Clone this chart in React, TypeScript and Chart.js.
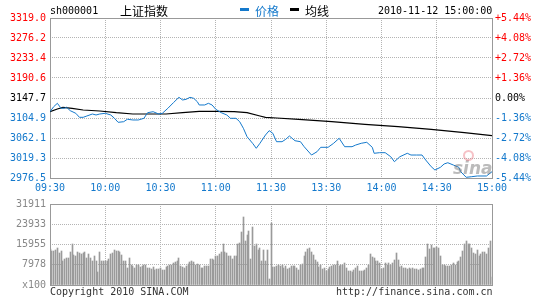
import React, { useEffect, useRef } from 'react';
import { Chart, registerables } from 'chart.js';

Chart.register(...registerables);

// ---- tick labels ----
const timeTickIdx = [0, 30, 60, 90, 120, 150, 180, 210, 240];
const timeLabels = ['09:30', '10:00', '10:30', '11:00', '11:30', '13:30', '14:00', '14:30', '15:00'];
const priceTicks = [3319.0, 3276.2, 3233.4, 3190.6, 3147.7, 3104.9, 3062.1, 3019.3, 2976.5];
const priceTickLabels = ['3319.0', '3276.2', '3233.4', '3190.6', '3147.7', '3104.9', '3062.1', '3019.3', '2976.5'];
const pctTickLabels = ['+5.44%', '+4.08%', '+2.72%', '+1.36%', '0.00%', '-1.36%', '-2.72%', '-4.08%', '-5.44%'];
const tickTone = ['up', 'up', 'up', 'up', 'flat', 'down', 'down', 'down', 'down'];
const volTicks = [31911, 23933, 15955, 7978, 0];
const volTickLabels = ['31911', '23933', '15955', '7978', 'x100'];

// ---- price series (minute index from 09:30, 0..240) ----
const priceIdx = [0, 2, 4, 6, 8, 9, 11, 14, 16, 18, 20, 23, 25, 27, 30, 33, 35, 37, 40, 42, 45, 48, 51, 53, 56, 59, 61, 64, 67, 70, 72, 74, 76, 78, 80, 81, 84, 86, 88, 90, 93, 96, 98, 101, 103, 105, 107, 110, 112, 114, 117, 119, 121, 123, 126, 128, 130, 133, 136, 138, 142, 145, 147, 151, 154, 157, 160, 164, 166, 169, 172, 175, 176, 179, 182, 185, 187, 190, 194, 196, 199, 202, 204, 207, 209, 212, 214, 216, 219, 222, 223, 226, 229, 232, 237, 240];
const priceVals = [3118.4, 3129.1, 3136.4, 3125.7, 3126.0, 3127.9, 3120.6, 3115.0, 3106.4, 3106.4, 3109.2, 3113.5, 3111.4, 3113.5, 3115.0, 3111.4, 3104.3, 3095.7, 3097.0, 3102.2, 3100.7, 3100.7, 3104.3, 3116.3, 3118.4, 3113.5, 3115.0, 3125.7, 3137.7, 3149.2, 3143.5, 3145.0, 3149.2, 3147.1, 3139.8, 3132.8, 3132.8, 3136.4, 3132.8, 3123.6, 3116.3, 3111.4, 3104.3, 3104.3, 3097.0, 3082.9, 3064.9, 3050.8, 3040.1, 3050.8, 3068.5, 3077.8, 3072.2, 3054.2, 3054.2, 3059.3, 3066.4, 3056.3, 3054.2, 3043.5, 3025.7, 3032.8, 3042.2, 3042.2, 3050.8, 3061.5, 3043.5, 3043.5, 3047.1, 3050.8, 3052.9, 3042.2, 3029.4, 3030.7, 3030.7, 3022.1, 3011.4, 3022.1, 3029.4, 3025.7, 3025.7, 3025.7, 3015.0, 3000.7, 2993.6, 2999.4, 3006.5, 3009.2, 3004.3, 2999.4, 2990.0, 2978.0, 2979.3, 2980.8, 2980.8, 2990.0];

// ---- average price series ----
const avgIdx = [0, 4, 7, 12, 18, 27, 36, 45, 63, 72, 81, 90, 100, 107, 114, 117, 123, 135, 153, 171, 189, 207, 225, 240];
const avgVals = [3118.4, 3124.2, 3127.8, 3125.7, 3122.1, 3119.9, 3116.3, 3113.5, 3113.5, 3116.3, 3119.3, 3119.3, 3118.4, 3116.3, 3109.2, 3106.4, 3104.9, 3102.2, 3097.0, 3091.5, 3086.3, 3080.7, 3073.5, 3067.0];

// ---- volume (x100), morning 09:30..11:30 and afternoon 13:01..15:00 ----
const volAM = [
  14300, 13400, 13400, 13800, 14400, 12800, 13400, 9600, 10200,
  10800, 10800, 13000, 16000, 11900, 11500, 13000, 12800, 12400,
  12800, 13000, 10800, 12100, 10800, 9300, 11500, 9600, 5100,
  13000, 9300, 9300, 9600, 9600, 10200, 12100, 12800, 13700,
  13400, 13400, 13000, 11700, 9600, 9300, 6800, 10800, 8000,
  7300, 6800, 7700, 7700, 7000, 7300, 8000, 8000, 6800,
  6800, 6400, 7000, 6000, 6300, 6400, 6800, 6000, 6000,
  7000, 7300, 7700, 8000, 8500, 8900, 9600, 10800, 7500,
  7000, 6800, 7500, 8300, 8900, 9600, 8900, 8000, 8300,
  7700, 6800, 6800, 7300, 7300, 7300, 10200, 10200, 9800,
  11500, 11500, 12400, 13000, 16000, 13000, 12800, 11500, 11500,
  10200, 11500, 11500, 16200, 16600, 21000, 26800, 17200, 19800,
  21300, 10200, 22700, 15300, 16000, 13700, 14700, 9600, 13700,
  9300, 13700, 2500, 24500,
];
const volPM = [
  7000, 7000, 7300, 8000, 7300, 7700, 6800, 7300, 6400,
  6800, 7300, 7300, 7300, 6800, 6000, 8000, 8300, 11500, 13100, 14000,
  14700, 13100, 11700, 9800, 8900, 7000, 7700, 6400, 6800, 5700, 6400,
  7000, 7300, 8000, 7700, 9300, 7300, 8000, 7700, 8500, 6800, 5700,
  5500, 5100, 6000, 6800, 7300, 5700, 5700, 5700,
  6000, 6800, 8000, 12400, 11100, 10800, 9600, 9300, 8500, 6400,
  6800, 8500, 8000, 8500, 7700, 8500, 9800, 12800, 9800, 7000, 7300,
  6800, 6800, 6300, 6800, 6400, 6800, 6300, 6300,
  6000, 6300, 6800, 6800, 11100, 16000, 14000, 15700, 14400, 14400, 14900, 14400, 11500,
  8000, 8000, 7300, 7300, 7300, 8000,
  8500, 8000, 8900, 9600, 11100, 13400, 16000, 17200, 16200, 16200, 14400,
  12800, 12400, 13700, 11500, 12100, 13000, 13000, 12100, 14400, 17200,
  3200,
];

const BLUE = '#1479cc';
const RED = '#ff0000';
const GRID = '#b4b4b4';
const FRAME = '#999999';
const MONO = 'DejaVu Sans Mono';
const tickFont = { family: MONO, size: 10 };
const toneColor = (t: string) => (t === 'up' ? RED : t === 'flat' ? '#000000' : BLUE);

const framePlugin = {
  id: 'frame',
  beforeDatasetsDraw(chart: any) {
    const { ctx, chartArea: a } = chart;
    ctx.save();
    ctx.strokeStyle = FRAME;
    ctx.lineWidth = 1;
    ctx.setLineDash([]);
    ctx.strokeRect(Math.round(a.left) + 0.5, Math.round(a.top) + 0.5, Math.round(a.right - a.left), Math.round(a.bottom - a.top));
    ctx.restore();
  },
};

const crispBars = {
  id: 'crispBars',
  beforeDatasetsDraw(chart: any) {
    chart.getDatasetMeta(0).data.forEach((el: any) => {
      el.x = Math.floor(el.x) + 0.5;
      el.y = Math.round(el.y);
    });
  },
};

const abs = (left: number, top: number, extra: any = {}) => ({
  position: 'absolute' as const,
  left,
  top,
  whiteSpace: 'pre' as const,
  lineHeight: '12px',
  ...extra,
});

export default function App() {
  const priceRef = useRef<HTMLCanvasElement>(null);
  const volRef = useRef<HTMLCanvasElement>(null);

  useEffect(() => {
    const priceChart = new Chart(priceRef.current as HTMLCanvasElement, {
      type: 'line',
      data: {
        datasets: [
          {
            label: '价格',
            data: priceIdx.map((x, i) => ({ x, y: priceVals[i] })),
            borderColor: BLUE,
            borderWidth: 1,
            pointRadius: 0,
            tension: 0,
            yAxisID: 'y',
          },
          {
            label: '均线',
            data: avgIdx.map((x, i) => ({ x, y: avgVals[i] })),
            borderColor: '#000000',
            borderWidth: 1.2,
            pointRadius: 0,
            tension: 0,
            yAxisID: 'y',
          },
        ],
      },
      options: {
        animation: false,
        responsive: false,
        devicePixelRatio: 1,
        layout: { padding: { top: 18, left: 0, right: 0, bottom: 0 } },
        plugins: { legend: { display: false }, tooltip: { enabled: false } },
        scales: {
          x: {
            type: 'linear',
            min: 0,
            max: 240,
            afterBuildTicks: (s: any) => { s.ticks = timeTickIdx.map((v) => ({ value: v })); },
            afterFit: (s: any) => { s.height = 18; },
            ticks: {
              autoSkip: false,
              maxRotation: 0,
              padding: 4,
              color: BLUE,
              font: tickFont,
              callback: (_v: any, i: number) => timeLabels[i],
            },
            grid: { color: GRID, drawTicks: false },
            border: { display: false, dash: [1, 1] },
          },
          y: {
            position: 'left',
            min: 2976.5,
            max: 3319.0,
            afterBuildTicks: (s: any) => { s.ticks = priceTicks.map((v) => ({ value: v })); },
            afterFit: (s: any) => { s.width = 50; },
            ticks: {
              autoSkip: false,
              padding: 4,
              font: tickFont,
              color: (c: any) => toneColor(tickTone[c.index]),
              callback: (_v: any, i: number) => priceTickLabels[i],
            },
            grid: { color: GRID, drawTicks: false },
            border: { display: false, dash: [1, 1] },
          },
          y2: {
            position: 'right',
            min: 2976.5,
            max: 3319.0,
            afterBuildTicks: (s: any) => { s.ticks = priceTicks.map((v) => ({ value: v })); },
            afterFit: (s: any) => { s.width = 53; },
            ticks: {
              autoSkip: false,
              padding: 3,
              font: tickFont,
              color: (c: any) => toneColor(tickTone[c.index]),
              callback: (_v: any, i: number) => pctTickLabels[i],
            },
            grid: { display: false, drawTicks: false },
            border: { display: false },
          },
        },
      },
      plugins: [framePlugin],
    } as any);

    const vols = [...volAM, ...volPM];
    const volChart = new Chart(volRef.current as HTMLCanvasElement, {
      type: 'bar',
      data: {
        datasets: [
          {
            data: vols.map((v, i) => ({ x: i, y: v })),
            backgroundColor: '#9a9a9a',
            borderWidth: 0,
            barThickness: 1,
          },
        ],
      },
      options: {
        animation: false,
        responsive: false,
        devicePixelRatio: 1,
        layout: { padding: { top: 7, left: 0, right: 53, bottom: 15 } },
        plugins: { legend: { display: false }, tooltip: { enabled: false } },
        scales: {
          x: {
            type: 'linear',
            min: 0,
            max: 240,
            offset: false,
            afterBuildTicks: (s: any) => { s.ticks = timeTickIdx.map((v) => ({ value: v })); },
            afterFit: (s: any) => { s.height = 0; },
            ticks: { display: false },
            grid: { color: GRID, drawTicks: false, offset: false },
            border: { display: false, dash: [1, 1] },
          },
          y: {
            position: 'left',
            min: 0,
            max: 31911,
            afterBuildTicks: (s: any) => { s.ticks = volTicks.map((v) => ({ value: v })); },
            afterFit: (s: any) => { s.width = 50; },
            ticks: {
              autoSkip: false,
              padding: 4,
              font: tickFont,
              color: '#888888',
              callback: (_v: any, i: number) => volTickLabels[i],
            },
            grid: { color: GRID, drawTicks: false },
            border: { display: false, dash: [1, 1] },
          },
        },
      },
      plugins: [framePlugin, crispBars],
    } as any);

    return () => {
      priceChart.destroy();
      volChart.destroy();
    };
  }, []);

  const mono = { fontFamily: MONO, fontSize: '10px' };
  const cjk = { fontFamily: '"Noto Sans CJK SC", sans-serif', fontSize: '12px' };

  return (
    <div style={{ position: 'absolute', left: 0, top: 0, width: 545, height: 300, background: '#fff', overflow: 'hidden' }}>
      <canvas ref={priceRef} width={545} height={196} style={{ position: 'absolute', left: 0, top: 0, width: 545, height: 196 }} />
      <canvas ref={volRef} width={545} height={106} style={{ position: 'absolute', left: 0, top: 194, width: 545, height: 106 }} />
      <span style={abs(50, 5, { ...mono, color: '#000' })}>sh000001</span>
      <span style={abs(120, 5, { ...cjk, color: '#000' })}>上证指数</span>
      <div style={{ position: 'absolute', left: 240, top: 8, width: 9, height: 3, background: BLUE }} />
      <span style={abs(255, 5, { ...cjk, color: BLUE })}>价格</span>
      <div style={{ position: 'absolute', left: 290, top: 8, width: 9, height: 3, background: '#000' }} />
      <span style={abs(305, 5, { ...cjk, color: '#000' })}>均线</span>
      <span style={abs(378, 5, { ...mono, color: '#000' })}>2010-11-12 15:00:00</span>
      <span style={abs(453, 159, { fontFamily: '"DejaVu Sans", sans-serif', fontSize: '17px', fontWeight: 'bold', fontStyle: 'italic', color: 'rgba(120,120,120,0.5)', lineHeight: '18px' })}>sina</span>
      <div style={{ position: 'absolute', left: 463, top: 150, width: 7, height: 7, borderRadius: '50%', border: '2px solid rgba(235,120,130,0.45)' }} />
      <span style={abs(50, 286, { ...mono, color: '#333' })}>Copyright 2010 SINA.COM</span>
      <span style={abs(336, 286, { ...mono, color: '#333' })}>http://finance.sina.com.cn</span>
    </div>
  );
}
